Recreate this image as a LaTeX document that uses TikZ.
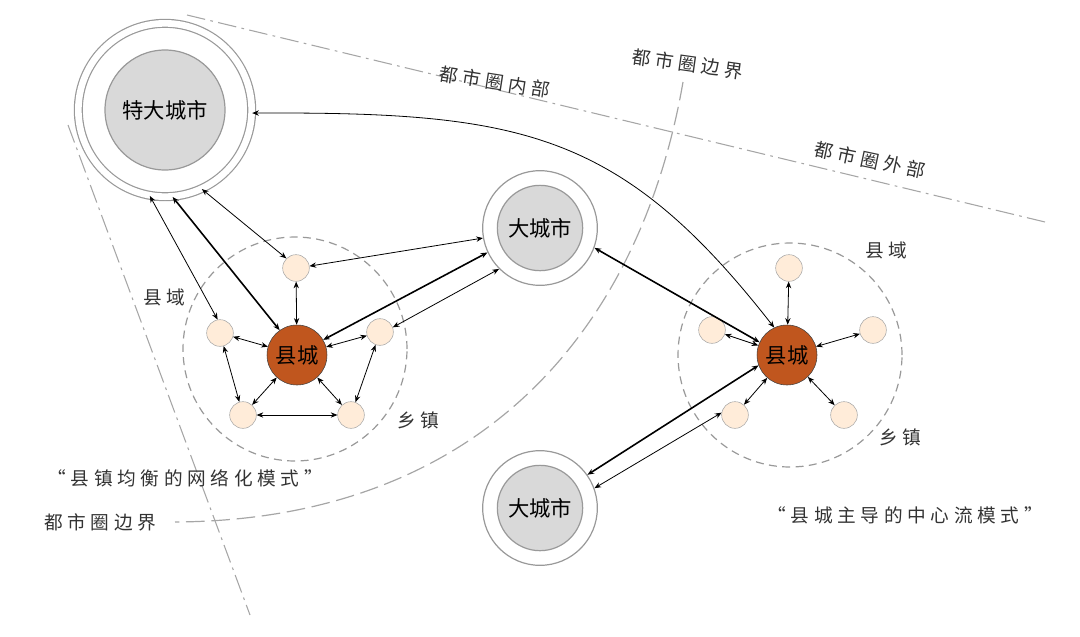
\documentclass[tikz,border=0pt]{standalone}
\usepackage{fontspec}
\setmainfont{Noto Sans CJK SC}
\newfontfamily\lsp[LetterSpace=25]{Noto Sans CJK SC}
\usetikzlibrary{arrows.meta}
\definecolor{cty}{HTML}{C0561E}
\begin{document}
\begin{tikzpicture}[x=0.75pt,y=-0.75pt,
 ring/.style={circle,draw=gray!80,line width=0.9pt,fill=white,inner sep=0pt},
 disk/.style={circle,draw=gray!80,line width=0.9pt,fill=gray!30,inner sep=0pt,font=\fontsize{16}{16}\selectfont},
 town/.style={circle,draw=gray!70,fill=orange!15,minimum size=20pt,inner sep=0pt},
 county/.style={circle,draw=gray!50!black,fill=cty,minimum size=45pt,inner sep=0pt,font=\fontsize{16}{16}\selectfont},
 region/.style={circle,draw=gray!80,dashed,dash pattern=on 6pt off 4pt,line width=0.9pt,inner sep=0pt,minimum size=168pt},
 dd/.style={draw=gray!70,dash pattern=on 14pt off 4pt on 2pt off 4pt,line width=0.8pt},
 lbl/.style={font=\lsp\fontsize{14}{14}\selectfont,text=black!80,inner sep=1pt},
 ar/.style={{Stealth[length=5pt,width=4pt]}-{Stealth[length=5pt,width=4pt]},line width=0.6pt},
 art/.style={ar,line width=1.2pt}]
\useasboundingbox (0,0) rectangle (1080,636);
% dash-dot lines
\coordinate (l1a) at (187,15); \coordinate (l1b) at (1045,222);
\coordinate (l2a) at (68,125); \coordinate (l2b) at (250,615);
\draw[dd] (l1a) -- (l1b);
\draw[dd] (l2a) -- (l2b);
% boundary arc
\coordinate (ba) at (683,82); \coordinate (bb) at (175,522);
\draw[draw=gray!70,dash pattern=on 14pt off 5pt,line width=0.9pt] (ba) .. controls (640,330) and (480,520) .. (bb);
% regions
\node[region] (rL) at (295,349) {};
\node[region] (rR) at (790,355) {};
% cities
\node[ring,double,double distance=5pt,minimum size=130pt] (megaO) at (165,110) {};
\node[disk,minimum size=90pt] (mega) at (165,110) {特大城市};
\node[ring,minimum size=86pt] (bc1O) at (540,228) {};
\node[disk,minimum size=64pt] (bc1) at (540,228) {大城市};
\node[ring,minimum size=86pt] (bc2O) at (540,508) {};
\node[disk,minimum size=64pt] (bc2) at (540,508) {大城市};
% left county
\node[county] (cL) at (297,355) {县城};
\node[town] (tLt) at (296,268) {};
\node[town] (tLl) at (220,333) {};
\node[town] (tLr) at (380,332) {};
\node[town] (tLbl) at (243,415) {};
\node[town] (tLbr) at (351,415) {};
% right county
\node[county] (cR) at (787,355) {县城};
\node[town] (tRt) at (789,268) {};
\node[town] (tRl) at (712,330) {};
\node[town] (tRr) at (873,330) {};
\node[town] (tRbl) at (735,415) {};
\node[town] (tRbr) at (844,415) {};
% labels
\node[lbl,rotate=-9] (t1) at (495,82) {都市圈内部};
\node[lbl,rotate=-8] (t2) at (688,64) {都市圈边界};
\node[lbl,rotate=-12] (t3) at (870,160) {都市圈外部};
\node[lbl] (t4) at (164,297) {县域};
\node[lbl] (t5) at (418,420) {乡镇};
\node[lbl] (t6) at (886,250) {县域};
\node[lbl] (t7) at (900,437) {乡镇};
\node[lbl] (t8) at (185,478) {“县镇均衡的网络化模式”};
\node[lbl] (t9) at (100,522) {都市圈边界};
\node[lbl] (t10) at (905,515) {“县城主导的中心流模式”};
% arrows megacity
\draw[ar] (megaO.-100) -- (tLl.100);
\draw[art] (megaO.-85) -- (cL.125);
\draw[ar] (megaO.-65) -- (tLt.135);
\draw[ar] (megaO.-2) .. controls (520,112) and (620,130) .. (cR.115);
% left county to big city
\draw[ar] (tLt.8) -- (bc1O.190);
\draw[art] (cL.30) -- (bc1O.205);
\draw[ar] (tLr.20) -- (bc1O.225);
% left inner
\foreach \t in {tLt,tLl,tLr,tLbl,tLbr} \draw[ar] (cL) -- (\t);
\draw[ar] (tLl) -- (tLbl);
\draw[ar] (tLr) -- (tLbr);
\draw[ar] (tLbl) -- (tLbr);
% right
\draw[art] (bc1O.-20) -- (cR.155);
\draw[art] (cR.200) -- (bc2O.35);
\draw[ar] (tRbl.170) -- (bc2O.20);
\foreach \t in {tRt,tRl,tRr,tRbl,tRbr} \draw[ar] (cR) -- (\t);
\end{tikzpicture}
\end{document}
